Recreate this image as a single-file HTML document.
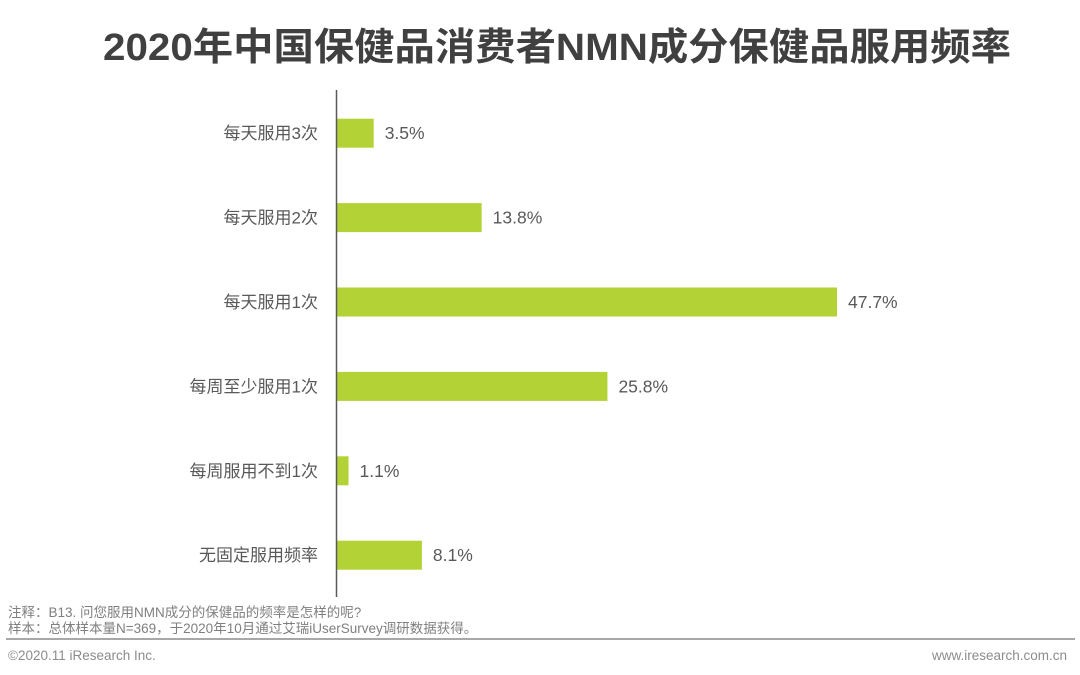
<!DOCTYPE html>
<html><head><meta charset="utf-8">
<style>
html,body{margin:0;padding:0;background:#fff;}
svg{display:block;font-family:"Liberation Sans","Noto Sans CJK SC",sans-serif;}
</style></head>
<body>
<svg id="chart" width="1080" height="675" viewBox="0 0 1080 675">
<text x="557" y="60" text-anchor="middle" font-size="38" font-weight="bold" fill="#404040" textLength="908" lengthAdjust="spacingAndGlyphs">2020年中国保健品消费者NMN成分保健品服用频率</text>
<g id="bars"></g>
<line x1="336.5" y1="90" x2="336.5" y2="597" stroke="#595959" stroke-width="1.5"/>
<text x="8" y="617" font-size="13.5" fill="#7f7f7f">注释：B13. 问您服用NMN成分的保健品的频率是怎样的呢?</text>
<text x="8" y="633" font-size="13.5" fill="#7f7f7f">样本：总体样本量N=369，于2020年10月通过艾瑞iUserSurvey调研数据获得。</text>
<line x1="6" y1="639" x2="1075" y2="639" stroke="#8c8c8c" stroke-width="1.5"/>
<text x="8" y="660" font-size="13.5" fill="#8c8c8c">©2020.11 iResearch Inc.</text>
<text x="1067" y="660" text-anchor="end" font-size="13.5" fill="#8c8c8c">www.iresearch.com.cn</text>
</svg>
<script>
const categories = ["每天服用3次","每天服用2次","每天服用1次","每周至少服用1次","每周服用不到1次","无固定服用频率"];
const values = [3.5, 13.8, 47.7, 25.8, 1.1, 8.1];
const valueLabels = ["3.5%","13.8%","47.7%","25.8%","1.1%","8.1%"];

const x0 = 337, pxPerUnit = 500 / 47.7;
const xScale = v => x0 + v * pxPerUnit;
const yTop = 91, band = 84.4;
const yCenter = i => yTop + band * (i + 0.5);
const barH = 29;
const NS = "http://www.w3.org/2000/svg";
const g = document.getElementById("bars");
categories.forEach((c, i) => {
  const cy = yCenter(i);
  const r = document.createElementNS(NS, "rect");
  r.setAttribute("x", x0);
  r.setAttribute("y", cy - barH / 2);
  r.setAttribute("width", xScale(values[i]) - x0);
  r.setAttribute("height", barH);
  r.setAttribute("fill", "#b2d235");
  
  
  g.appendChild(r);
  const lab = document.createElementNS(NS, "text");
  lab.setAttribute("x", 318);
  lab.setAttribute("y", cy + 6);
  lab.setAttribute("text-anchor", "end");
  lab.setAttribute("font-size", "17");
  lab.setAttribute("fill", "#595959");
  lab.textContent = c;
  
  
  g.appendChild(lab);
  const v = document.createElementNS(NS, "text");
  v.setAttribute("x", xScale(values[i]) + 11);
  v.setAttribute("y", cy + 6);
  v.setAttribute("font-size", "17.5");
  v.setAttribute("fill", "#595959");
  v.textContent = valueLabels[i];
  
  
  g.appendChild(v);
});
</script>
</body></html>
